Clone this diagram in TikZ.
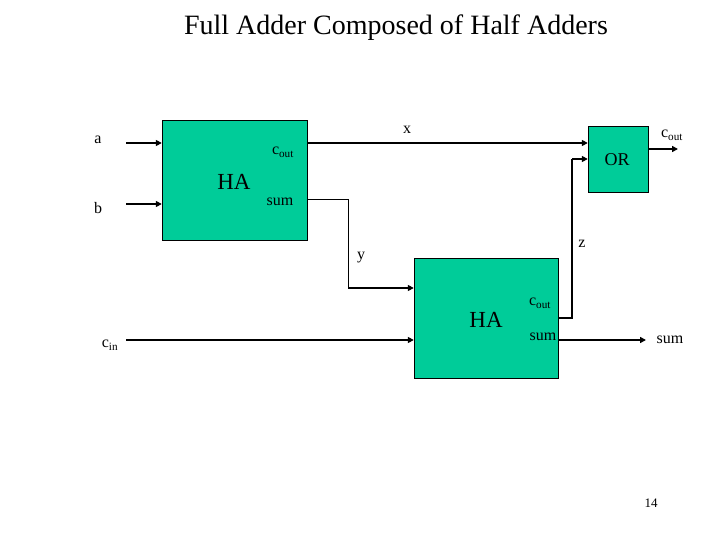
\documentclass[tikz,border=0pt]{standalone}
\usepackage{fontspec}
\setmainfont{Liberation Serif}
\usepackage{xcolor}
\usetikzlibrary{arrows.meta}

\definecolor{blockgreen}{RGB}{0,204,153}

\tikzset{
  block/.style={draw=black, fill=blockgreen, minimum width=#1, inner sep=0pt},
  wire/.style={line width=2pt, -{Triangle[length=6pt,width=6pt]}},
  plainwire/.style={line width=2pt},
  thinwire/.style={line width=0.9pt},
  lbl/.style={font=\fontsize{16}{18}\selectfont, inner sep=0pt},
  blocklbl/.style={font=\fontsize{23}{25}\selectfont, inner sep=0pt}
}

\begin{document}
\begin{tikzpicture}[x=1pt, y=-1pt]
  \useasboundingbox (0,0) rectangle (720,540);

  \node[font=\fontsize{28}{31}\selectfont] (title) at (396,28) {Full Adder Composed of Half Adders};

  % the three blocks
  \node[block=145pt, minimum height=120pt] (ha1) at (234.5,180) {};
  \node[block=60pt, minimum height=66pt] (orgate) at (618,159) {};
  \node[block=144pt, minimum height=120pt] (ha2) at (486,318) {};

  \node[blocklbl] (ha1name) at (234,182) {HA};
  \node[blocklbl] (ha2name) at (486,320) {HA};
  \node[lbl, font=\fontsize{18}{20}\selectfont] (orname) at (617,160) {OR};

  % port labels inside the blocks
  \node[lbl] (ha1cout) at (283,152) {c\textsubscript{out}};
  \node[lbl] (ha1sum) at (280,202) {sum};
  \node[lbl] (ha2cout) at (540,303) {c\textsubscript{out}};
  \node[lbl] (ha2sum) at (543,337) {sum};

  % inputs
  \coordinate (ina) at (126,143);
  \coordinate (inb) at (126,204);
  \coordinate (incin) at (126,340);
  \node[lbl] (la) at (98,140) {a};
  \node[lbl] (lb) at (98,208) {b};
  \node[lbl] (lcin) at (110,345) {c\textsubscript{in}};

  \draw[wire] (ina) -- (ha1.west |- ina);
  \draw[wire] (inb) -- (ha1.west |- inb);
  \draw[wire] (incin) -- (ha2.west |- incin);

  % x: carry of first half adder into OR
  \draw[wire] (ha1.east |- ina) -- (orgate.west |- ina);
  \node[lbl] (lx) at (407,130) {x};

  % y: sum of first half adder into second one
  \coordinate (ysrc) at (307,199);
  \coordinate (ybend) at (348,199);
  \coordinate (ylow) at (348,288);
  \draw[thinwire] (ysrc) -- (ybend) -- (ylow);
  \draw[wire] (ylow) -- (ha2.west |- ylow);
  \node[lbl] (ly) at (361,258) {y};

  % z: carry of second half adder into OR
  \coordinate (zsrc) at (558,318);
  \coordinate (zbend) at (572,318);
  \coordinate (ztop) at (572,159);
  \draw[plainwire] (zsrc) -- (zbend) -- (ztop);
  \draw[wire] (ztop) -- (orgate.west |- ztop);
  \node[lbl] (lz) at (582,244) {z};

  % outputs
  \coordinate (coutend) at (678,149);
  \draw[wire] (orgate.east |- coutend) -- (coutend);
  \node[lbl] (lcout) at (672,135) {c\textsubscript{out}};

  \coordinate (sumend) at (646,340);
  \draw[wire] (ha2.east |- sumend) -- (sumend);
  \node[lbl] (lsum) at (670,340) {sum};

  \node[lbl, font=\fontsize{13}{15}\selectfont] (pageno) at (651,503) {14};
\end{tikzpicture}
\end{document}
